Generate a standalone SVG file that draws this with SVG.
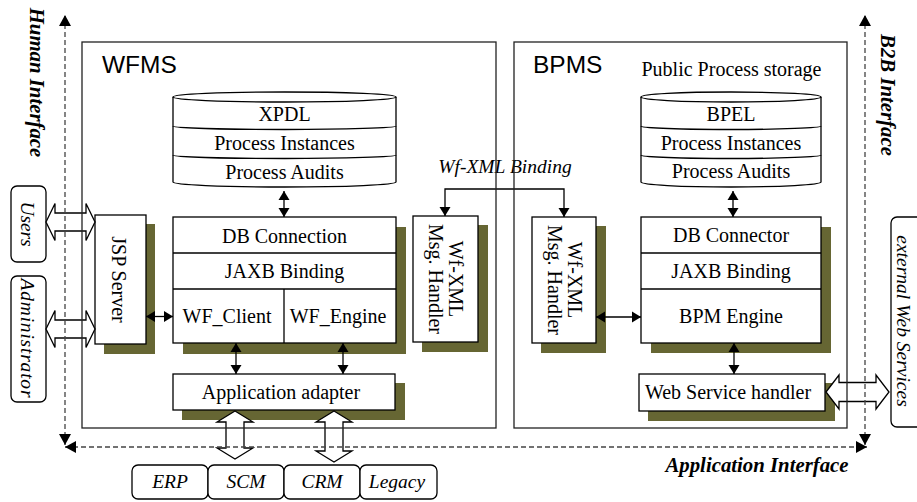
<svg xmlns="http://www.w3.org/2000/svg" width="917" height="502" viewBox="0 0 917 502">
  <defs>
    <style>
      .box { fill: #fff; stroke: #000; stroke-width: 1.3; }
      .shadow { fill: #666633; stroke: none; }
      .line { fill: none; stroke: #000; stroke-width: 1.3; }
      .frame { fill: none; stroke: #222; stroke-width: 1.3; }
      .pill { fill: #fff; stroke: #000; stroke-width: 1.3; }
      .block { fill: #fff; stroke: #000; stroke-width: 1.3; stroke-linejoin: miter; }
      .link { fill: none; stroke: #000; stroke-width: 1.3; marker-start: url(#tip); marker-end: url(#tip); }
      .axis { fill: none; stroke: #444; stroke-width: 1.3; stroke-dasharray: 5 3; }
      .t { font-family: "Liberation Serif", "Times New Roman", serif; font-size: 20px; fill: #000; text-anchor: middle; }
      .tv { font-family: "Liberation Serif", "Times New Roman", serif; font-size: 20px; fill: #000; text-anchor: middle; }
      .ti { font-family: "Liberation Serif", "Times New Roman", serif; font-style: italic; font-size: 19.5px; fill: #000; text-anchor: middle; }
      .tb { font-family: "Liberation Serif", "Times New Roman", serif; font-style: italic; font-weight: bold; font-size: 20.8px; fill: #000; text-anchor: middle; }
      .title { font-family: "Liberation Sans", Arial, sans-serif; font-size: 24.5px; fill: #000; }
    </style>
    <marker id="tip" markerUnits="userSpaceOnUse" markerWidth="10" markerHeight="12" refX="9" refY="6" orient="auto-start-reverse">
      <path d="M0,0.5 L9,6 L0,11.5 z" fill="#000"/>
    </marker>
    <marker id="axisTip" markerUnits="userSpaceOnUse" markerWidth="12" markerHeight="14" refX="11" refY="7" orient="auto-start-reverse">
      <path d="M0,1 L11,7 L0,13 z" fill="#000"/>
    </marker>
  </defs>

  <rect width="917" height="502" fill="#fff"/>

  <!-- WFMS storage cylinder -->
  <g id="xpdl-store">
    <path class="box" d="M173,97 V182 A111.5,5 0 0 0 396,182 V97"/>
    <ellipse class="box" cx="284.5" cy="97" rx="111.5" ry="5"/>
    <path class="line" d="M173,126 A111.5,3.5 0 0 0 396,126"/>
    <path class="line" d="M173,155 A111.5,3.5 0 0 0 396,155"/>
    <text class="t" x="284.5" y="121">XPDL</text>
    <text class="t" x="284.5" y="150">Process Instances</text>
    <text class="t" x="284.5" y="179">Process Audits</text>
  </g>

  <!-- WFMS engine stack -->
  <g id="wf-core">
    <rect class="shadow" x="183" y="227" width="223" height="127"/>
    <rect class="box" x="173" y="217" width="223" height="126"/>
    <line class="line" x1="173" y1="253" x2="396" y2="253"/>
    <line class="line" x1="173" y1="289" x2="396" y2="289"/>
    <line class="line" x1="284" y1="289" x2="284" y2="343"/>
    <text class="t" x="284.5" y="243">DB Connection</text>
    <text class="t" x="284.5" y="278">JAXB Binding</text>
    <text class="t" x="227" y="323">WF_Client</text>
    <text class="t" x="338" y="323">WF_Engine</text>
  </g>

  <g id="jsp-server">
    <rect class="shadow" x="104" y="224" width="51" height="130"/>
    <rect class="box" x="95" y="215" width="51" height="129"/>
    <text class="tv" font-size="20.5" transform="translate(112,279.5) rotate(90)">JSP Server</text>
  </g>

  <g id="wf-xml-handler-left">
    <rect class="shadow" x="422" y="225" width="66" height="127"/>
    <rect class="box" x="413" y="216" width="65" height="126"/>
    <text class="tv" transform="translate(449,279) rotate(90)">Wf-XML</text>
    <text class="tv" transform="translate(429,279) rotate(90)">Msg. Handler</text>
  </g>

  <g id="app-adapter">
    <rect class="shadow" x="182" y="383" width="223" height="37"/>
    <rect class="box" x="173" y="374" width="222" height="36"/>
    <text class="t" x="281" y="399">Application adapter</text>
  </g>

  <!-- BPMS storage cylinder -->
  <g id="bpel-store">
    <path class="box" d="M641,97 V182 A90,5 0 0 0 821,182 V97"/>
    <ellipse class="box" cx="731" cy="97" rx="90" ry="5"/>
    <path class="line" d="M641,126 A90,3.5 0 0 0 821,126"/>
    <path class="line" d="M641,155 A90,3.5 0 0 0 821,155"/>
    <text class="t" x="731" y="121">BPEL</text>
    <text class="t" x="731" y="150">Process Instances</text>
    <text class="t" x="731" y="178">Process Audits</text>
  </g>

  <g id="bpm-core">
    <rect class="shadow" x="651" y="227" width="180" height="126"/>
    <rect class="box" x="641" y="217" width="180" height="126"/>
    <line class="line" x1="641" y1="253" x2="821" y2="253"/>
    <line class="line" x1="641" y1="289" x2="821" y2="289"/>
    <text class="t" x="731" y="242">DB Connector</text>
    <text class="t" x="731" y="278">JAXB Binding</text>
    <text class="t" x="731" y="323">BPM Engine</text>
  </g>

  <g id="wf-xml-handler-right">
    <rect class="shadow" x="541" y="226" width="65" height="127"/>
    <rect class="box" x="532" y="217" width="64" height="126"/>
    <text class="tv" transform="translate(568,280) rotate(90)">Wf-XML</text>
    <text class="tv" transform="translate(548,280) rotate(90)">Msg. Handler</text>
  </g>

  <g id="ws-handler">
    <rect class="shadow" x="648" y="383" width="187" height="38"/>
    <rect class="box" x="639" y="374" width="186" height="37"/>
    <text class="t" x="728" y="399">Web Service handler</text>
  </g>

  <!-- outside parties -->
  <g id="users">
    <rect class="pill" x="11" y="186" width="35" height="76" rx="6"/>
    <text class="ti" font-size="20" textLength="45" lengthAdjust="spacing" transform="translate(21,224) rotate(90)">Users</text>
  </g>
  <g id="administrator">
    <rect class="pill" x="11" y="276" width="35" height="126" rx="6"/>
    <text class="ti" font-size="20" textLength="119" lengthAdjust="spacing" transform="translate(21,338) rotate(90)">Administrator</text>
  </g>
  <g id="external-ws">
    <rect class="pill" x="891" y="217" width="40" height="210" rx="6"/>
    <text class="ti" font-size="20.5" transform="translate(897,321) rotate(90)">external Web Services</text>
  </g>
  <g id="erp">
    <rect class="pill" x="132" y="465" width="76" height="34" rx="6"/>
    <text class="ti" x="170" y="488">ERP</text>
  </g>
  <g id="scm">
    <rect class="pill" x="208" y="465" width="76" height="34" rx="6"/>
    <text class="ti" x="246" y="488">SCM</text>
  </g>
  <g id="crm">
    <rect class="pill" x="284" y="465" width="76" height="34" rx="6"/>
    <text class="ti" x="322" y="488">CRM</text>
  </g>
  <g id="legacy">
    <rect class="pill" x="360" y="465" width="77" height="34" rx="6"/>
    <text class="ti" x="397" y="488">Legacy</text>
  </g>

  <!-- connectors -->
  <g id="connectors">
    <line class="link" x1="284" y1="191" x2="284" y2="217"/>
    <line class="link" x1="733" y1="191" x2="733" y2="217"/>
    <line class="link" x1="146" y1="316.5" x2="173" y2="316.5"/>
    <line class="link" x1="236" y1="343" x2="236" y2="374"/>
    <line class="link" x1="343" y1="343" x2="343" y2="374"/>
    <line class="link" x1="596" y1="317" x2="641" y2="317"/>
    <line class="link" x1="734" y1="343" x2="734" y2="374"/>
    <path class="link" d="M445,216 V189 H564 V217"/>
    <text class="ti" font-size="16.5" x="505" y="173">Wf-XML Binding</text>

    <!-- wide two-way arrows -->
    <polygon class="block" points="46,222 55,203.5 55,213 86,213 86,203.5 95,222 86,240.5 86,231 55,231 55,240.5"/>
    <polygon class="block" points="46,329 55,310.5 55,320 86,320 86,310.5 95,329 86,347.5 86,338 55,338 55,347.5"/>
    <polygon class="block" points="826,392 839,375 839,382.5 876,382.5 876,375 889,392 876,409 876,401.5 839,401.5 839,409"/>
    <polygon class="block" points="235,411 253,422 244,422 244,448 253,448 235,459 217,448 226,448 226,422 217,422"/>
    <polygon class="block" points="334,411 352,422 343,422 343,451 352,451 334,462 316,451 325,451 325,422 316,422"/>
  </g>

  <!-- system frames -->
  <g id="wfms">
    <rect class="frame" x="82" y="42" width="414" height="386"/>
    <text class="title" x="102" y="73">WFMS</text>
  </g>
  <g id="bpms">
    <rect class="frame" x="514" y="42" width="333" height="386"/>
    <text class="title" x="533" y="73">BPMS</text>
    <text class="t" x="731.5" y="76">Public Process storage</text>
  </g>

  <!-- interface axes -->
  <g id="axes">
    <line class="axis" x1="65" y1="445" x2="65" y2="15" marker-start="url(#axisTip)" marker-end="url(#axisTip)"/>
    <line class="axis" x1="865" y1="445" x2="865" y2="15" marker-start="url(#axisTip)" marker-end="url(#axisTip)"/>
    <line class="axis" x1="65" y1="447" x2="867" y2="447" marker-start="url(#axisTip)" marker-end="url(#axisTip)"/>
    <text class="tb" transform="translate(29.5,82.5) rotate(90)">Human Interface</text>
    <text class="tb" transform="translate(881,95) rotate(90)">B2B Interface</text>
    <text class="tb" font-size="19" x="757" y="472">Application Interface</text>
  </g>
</svg>
